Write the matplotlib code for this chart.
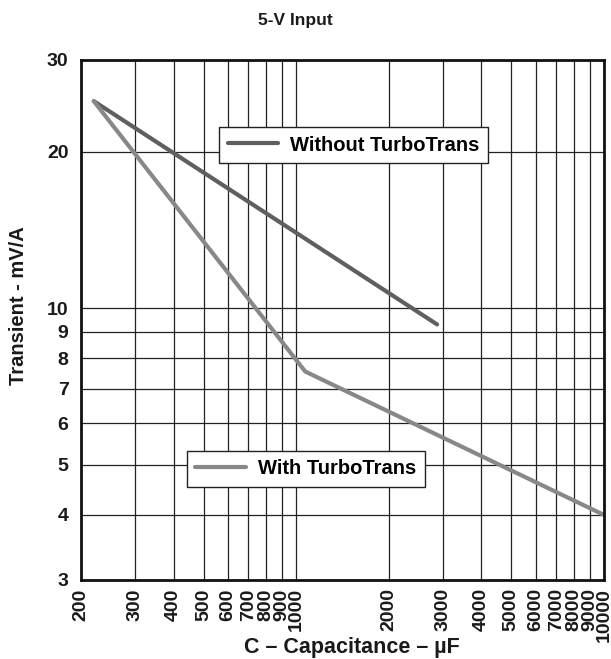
import matplotlib
matplotlib.use("Agg")
import matplotlib.pyplot as plt
from matplotlib.ticker import FixedLocator, NullLocator, FixedFormatter

plt.rcParams['font.family'] = ['Liberation Sans', 'DejaVu Sans']
plt.rcParams['font.weight'] = 'bold'

# Transient response vs output capacitance
cap_without = [220, 2870]
trans_without = [25.0, 9.3]

cap_with = [220, 1070, 10000]
trans_with = [25.0, 7.55, 4.0]

x_ticks = [200, 300, 400, 500, 600, 700, 800, 900, 1000,
           2000, 3000, 4000, 5000, 6000, 7000, 8000, 9000, 10000]
y_ticks = [3, 4, 5, 6, 7, 8, 9, 10, 20, 30]

fig = plt.figure(figsize=(6.11, 6.59), dpi=100)
ax = fig.add_axes([0.1326, 0.12, 0.8559, 0.789])

ax.set_xscale('log')
ax.set_yscale('log')
ax.set_xlim(200, 10000)
ax.set_ylim(3, 30)

ax.xaxis.set_major_locator(FixedLocator(x_ticks))
ax.xaxis.set_major_formatter(FixedFormatter([str(v) for v in x_ticks]))
ax.xaxis.set_minor_locator(NullLocator())
ax.yaxis.set_major_locator(FixedLocator(y_ticks))
ax.yaxis.set_major_formatter(FixedFormatter([str(v) for v in y_ticks]))
ax.yaxis.set_minor_locator(NullLocator())

ax.grid(True, which='major', color='#222222', linewidth=0.9)
ax.set_axisbelow(True)
ax.tick_params(axis='x', length=0, pad=6, labelsize=14, labelcolor='#1a1a1a')
ax.tick_params(axis='y', length=0, pad=9, labelsize=14, labelcolor='#1a1a1a')
for lab in ax.get_xticklabels():
    lab.set_rotation(90)
    lab.set_fontweight('bold')
for lab in ax.get_yticklabels():
    lab.set_fontweight('bold')

for s in ax.spines.values():
    s.set_linewidth(2)
    s.set_color('#111111')

l1, = ax.plot(cap_without, trans_without, color='#5f5f5f', lw=3,
              solid_capstyle='round', label='Without TurboTrans')
l2, = ax.plot(cap_with, trans_with, color='#888888', lw=3,
              solid_capstyle='round', label='With TurboTrans', clip_on=False)

leg_kw = dict(frameon=True, fancybox=False, framealpha=1, edgecolor='#222222',
              handlelength=2.5, handletextpad=0.6, borderpad=0.42,
              borderaxespad=0, loc='upper left',
              prop={'weight': 'bold', 'size': 14.5})
leg1 = ax.legend(handles=[l1], bbox_to_anchor=(0.264, 0.871), **leg_kw)
leg1.get_frame().set_linewidth(1.0)
ax.add_artist(leg1)
leg2 = ax.legend(handles=[l2], bbox_to_anchor=(0.2027, 0.248), **leg_kw)
leg2.get_frame().set_linewidth(1.0)

fig.text(352 / 611, 1 - 648 / 659, 'C – Capacitance – µF', fontsize=15.5,
         fontweight='bold', ha='center', va='center', color='#1a1a1a')
fig.text(19 / 611, 1 - 306 / 659, 'Transient - mV/A', fontsize=14.5,
         fontweight='bold', ha='center', va='center', rotation=90, color='#1a1a1a')
fig.text(295 / 611, 1 - 20 / 659, '5-V Input', fontsize=12.5,
         fontweight='bold', ha='center', va='center', color='#1a1a1a')

fig.savefig('out.png', dpi=100)
